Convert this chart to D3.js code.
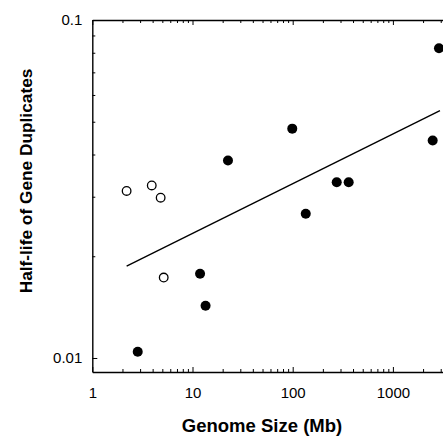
<!DOCTYPE html>
<html>
<head>
<meta charset="utf-8">
<script src="https://cdn.jsdelivr.net/npm/d3@7"></script>
<style>
  body { margin: 0; background: #fff; }
  text { font-family: Arial, "Liberation Sans", Helvetica, sans-serif; fill: #000; }
  .axis path, .axis line { stroke: #000; }
</style>
</head>
<body>
<script>
var width = 443,
    height = 436;

// open circles
var openSize = [2.2, 3.92, 4.81, 5.16];
var openHalf = [0.0312, 0.0324, 0.0298, 0.0173];
// filled circles
var fillSize = [2.84, 11.9, 13.5, 22.6, 99, 135, 275, 362, 2495, 2884];
var fillHalf = [0.01044, 0.01776, 0.01428, 0.0384, 0.0477, 0.0267, 0.0331, 0.0331, 0.0440, 0.0825];
// regression line end points
var lineSize = [2.2, 2950];
var lineHalf = [0.0187, 0.0539];

var xTicks = [1, 10, 100, 1000];
var yTicks = [0.01, 0.1];

var svg = d3.select("body").append("svg").attr("width", width).attr("height", height);

var x = d3.scaleLog().domain([1, 10000]).range([92.3, 493.1]);
var y = d3.scaleLog().domain([0.00909, 0.1]).range([372, 20]);

// every 1..9 step of each decade
function minors(lo, hi) {
  var out = [];
  for (var p = lo; p < hi; p++)
    for (var k = 1; k < 10; k++) out.push(k * Math.pow(10, p));
  return out;
}
var isMajor = (v) => Math.abs(Math.log10(v) - Math.round(Math.log10(v))) < 1e-9;

// bottom axis
var gx = svg.append("g").attr("class", "axis")
  .attr("transform", "translate(0,372)")
  .call(d3.axisBottom(x).tickValues(minors(0, 4)).tickSize(-3).tickSizeOuter(0).tickPadding(15)
    .tickFormat((d) => xTicks.indexOf(d) >= 0 ? d3.format("d")(d) : ""));
gx.selectAll(".tick line").attr("y2", (d) => isMajor(d) ? -5 : -3);

// top axis, ticks only
var gt = svg.append("g").attr("class", "axis")
  .attr("transform", "translate(0,20)")
  .call(d3.axisTop(x).tickValues(minors(0, 4)).tickSize(-3).tickSizeOuter(0).tickFormat(""));
gt.selectAll(".tick line").attr("y2", (d) => isMajor(d) ? 5 : 3);

// left axis
var gy = svg.append("g").attr("class", "axis")
  .attr("transform", "translate(92.3,0)")
  .call(d3.axisLeft(y).tickValues(minors(-2, -1).concat([0.1])).tickSize(-3).tickSizeOuter(0).tickPadding(10)
    .tickFormat((d) => yTicks.indexOf(d) >= 0 ? (d == 0.1 ? "0.1" : "0.01") : ""));
gy.selectAll(".tick line").attr("x2", (d) => isMajor(d) ? 5 : 3);

svg.selectAll(".axis path").attr("stroke-width", 1.4);
svg.selectAll(".axis .tick line").attr("stroke-width", 1);
svg.selectAll(".axis text").attr("font-size", 15).attr("fill", "#000");

// regression line
svg.append("path")
  .datum(lineSize.map((d, i) => [d, lineHalf[i]]))
  .attr("d", d3.line().x((d) => x(d[0])).y((d) => y(d[1])))
  .attr("fill", "none").attr("stroke", "#000").attr("stroke-width", 1.4);

svg.selectAll("circle.open").data(openSize).enter().append("circle")
  .attr("class", "open")
  .attr("cx", (d) => x(d))
  .attr("cy", (d, i) => y(openHalf[i]))
  .attr("r", 4.3)
  .attr("fill", "#fff").attr("stroke", "#000").attr("stroke-width", 1.3);

svg.selectAll("circle.fill").data(fillSize).enter().append("circle")
  .attr("class", "fill")
  .attr("cx", (d) => x(d))
  .attr("cy", (d, i) => y(fillHalf[i]))
  .attr("r", 5)
  .attr("fill", "#000");

svg.append("text")
  .attr("x", 262).attr("y", 432)
  .attr("text-anchor", "middle")
  .attr("font-size", 18.5).attr("font-weight", "bold")
  .text("Genome Size (Mb)");

svg.append("text")
  .attr("transform", "translate(32,181) rotate(-90)")
  .attr("text-anchor", "middle")
  .attr("font-size", 17.3).attr("font-weight", "bold")
  .text("Half-life of Gene Duplicates");
</script>
</body>
</html>
